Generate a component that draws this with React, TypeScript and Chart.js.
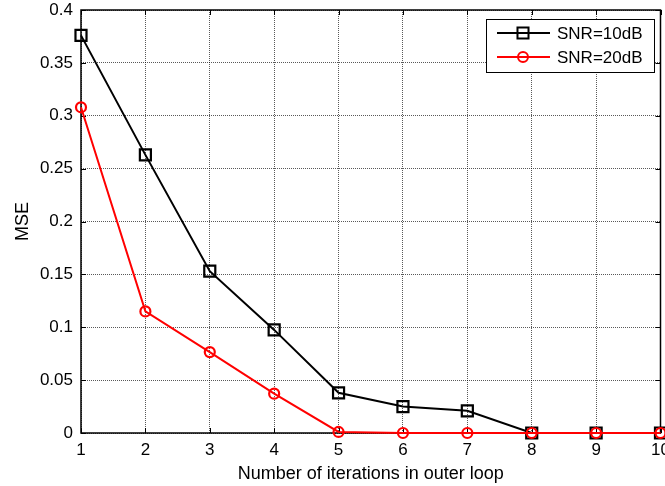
import React, { useEffect, useRef } from "react";
import { Chart, registerables } from "chart.js";

Chart.register(...registerables);

const iterations = [1, 2, 3, 4, 5, 6, 7, 8, 9, 10];
const snr10 = [0.376, 0.263, 0.153, 0.0975, 0.038, 0.025, 0.021, 0, 0, 0];
const snr20 = [0.308, 0.115, 0.0765, 0.0372, 0.001, 0, 0, 0, 0, 0];
const xTickLabels = ["1", "2", "3", "4", "5", "6", "7", "8", "9", "10"];
const yTickLabels = ["0", "0.05", "0.1", "0.15", "0.2", "0.25", "0.3", "0.35", "0.4"];
const seriesLabels = ["SNR=10dB", "SNR=20dB"];
const xTitle = "Number of iterations in outer loop";
const yTitle = "MSE";

const FONT = "'Liberation Sans', Arial, sans-serif";

const boxPlugin = {
  id: "matlabBox",
  beforeDatasetsDraw(chart: any) {
    const { ctx, chartArea: a, scales } = chart;
    ctx.save();
    ctx.strokeStyle = "#000";
    ctx.lineWidth = 1;
    const tl = 5;
    ctx.beginPath();
    scales.x.ticks.forEach((t: any) => {
      const px = Math.round(scales.x.getPixelForValue(t.value)) + 0.5;
      ctx.moveTo(px, a.bottom);
      ctx.lineTo(px, a.bottom - tl);
      ctx.moveTo(px, a.top);
      ctx.lineTo(px, a.top + tl);
    });
    scales.y.ticks.forEach((t: any) => {
      const py = Math.round(scales.y.getPixelForValue(t.value)) + 0.5;
      ctx.moveTo(a.left, py);
      ctx.lineTo(a.left + tl, py);
      ctx.moveTo(a.right, py);
      ctx.lineTo(a.right - tl, py);
    });
    ctx.stroke();
    ctx.lineWidth = 1.5;
    ctx.strokeRect(a.left, a.top, a.right - a.left, a.bottom - a.top);
    ctx.restore();
  },
  afterDraw(chart: any) {
    const { ctx } = chart;
    const ds = chart.data.datasets;
    const bx = 486, by = 19, bw = 168, bh = 53;
    ctx.save();
    ctx.fillStyle = "#fff";
    ctx.fillRect(bx, by, bw, bh);
    ctx.strokeStyle = "#000";
    ctx.lineWidth = 1;
    ctx.strokeRect(bx + 0.5, by + 0.5, bw, bh);
    const rows = [33, 57];
    ds.forEach((d: any, i: number) => {
      const y = rows[i];
      ctx.strokeStyle = d.borderColor;
      ctx.lineWidth = 2;
      ctx.beginPath();
      ctx.moveTo(497, y);
      ctx.lineTo(550, y);
      ctx.stroke();
      ctx.beginPath();
      if (d.pointStyle === "rect") {
        const s = d.pointRadius * Math.SQRT1_2;
        ctx.rect(523 - s, y - s, 2 * s, 2 * s);
      } else {
        ctx.arc(523, y, d.pointRadius, 0, Math.PI * 2);
      }
      ctx.stroke();
      ctx.fillStyle = "#000";
      ctx.font = `17px ${FONT}`;
      ctx.textBaseline = "middle";
      ctx.textAlign = "left";
      ctx.fillText(d.label, 557, y + 1);
    });
    ctx.restore();
  },
};

export default function App() {
  const ref = useRef<HTMLCanvasElement | null>(null);
  useEffect(() => {
    if (!ref.current) return;
    Chart.defaults.font.family = FONT;
    const chart = new Chart(ref.current, {
      type: "line",
      data: {
        labels: xTickLabels,
        datasets: [
          {
            label: seriesLabels[0],
            data: iterations.map((x, i) => ({ x, y: snr10[i] })),
            borderColor: "#000000",
            backgroundColor: "rgba(0,0,0,0)",
            borderWidth: 2,
            pointStyle: "rect",
            pointRadius: 7.8,
            pointBorderWidth: 2.2,
            pointBackgroundColor: "rgba(0,0,0,0)",
            pointBorderColor: "#000000",
            tension: 0,
            clip: false,
            order: 2,
          } as any,
          {
            label: seriesLabels[1],
            data: iterations.map((x, i) => ({ x, y: snr20[i] })),
            borderColor: "#ff0000",
            backgroundColor: "rgba(0,0,0,0)",
            borderWidth: 2,
            pointStyle: "circle",
            pointRadius: 5,
            pointBorderWidth: 2.2,
            pointBackgroundColor: "rgba(0,0,0,0)",
            pointBorderColor: "#ff0000",
            tension: 0,
            clip: false,
            order: 1,
          } as any,
        ],
      },
      options: {
        animation: false,
        responsive: false,
        devicePixelRatio: 1,
        layout: { autoPadding: false, padding: { top: 10, right: 4.5, left: 0, bottom: 0 } },
        plugins: { legend: { display: false }, tooltip: { enabled: false } },
        scales: {
          x: {
            type: "linear",
            min: 1,
            max: 10,
            afterFit: (s: any) => {
              s.height = 53;
              s.paddingLeft = 0;
              s.paddingRight = 0;
            },
            ticks: {
              stepSize: 1,
              autoSkip: false,
              maxRotation: 0,
              padding: 7,
              color: "#000",
              font: { size: 17 },
              callback: (_v: any, i: number) => xTickLabels[i],
            },
            grid: { color: "rgba(0,0,0,0.65)", lineWidth: 1, drawTicks: false },
            border: { display: false, dash: [1, 1] },
            title: {
              display: true,
              text: xTitle,
              color: "#000",
              font: { size: 18 },
              padding: { top: 0, bottom: 1 },
            },
          },
          y: {
            type: "linear",
            min: 0,
            max: 0.4,
            afterFit: (s: any) => {
              s.width = 81;
              s.paddingTop = 0;
              s.paddingBottom = 0;
            },
            ticks: {
              stepSize: 0.05,
              autoSkip: false,
              padding: 8,
              color: "#000",
              font: { size: 17 },
              callback: (_v: any, i: number) => yTickLabels[i],
            },
            grid: { color: "rgba(0,0,0,0.65)", lineWidth: 1, drawTicks: false },
            border: { display: false, dash: [1, 1] },
            title: {
              display: true,
              text: yTitle,
              color: "#000",
              font: { size: 18 },
              padding: { top: 12, bottom: 0 },
            },
          },
        },
      },
      plugins: [boxPlugin],
    });
    return () => chart.destroy();
  }, []);
  return (
    <div style={{ position: "fixed", left: 0, top: 0, width: 665, height: 486, background: "#fff" }}>
      <canvas ref={ref} width={665} height={486} style={{ width: 665, height: 486 }} />
    </div>
  );
}
